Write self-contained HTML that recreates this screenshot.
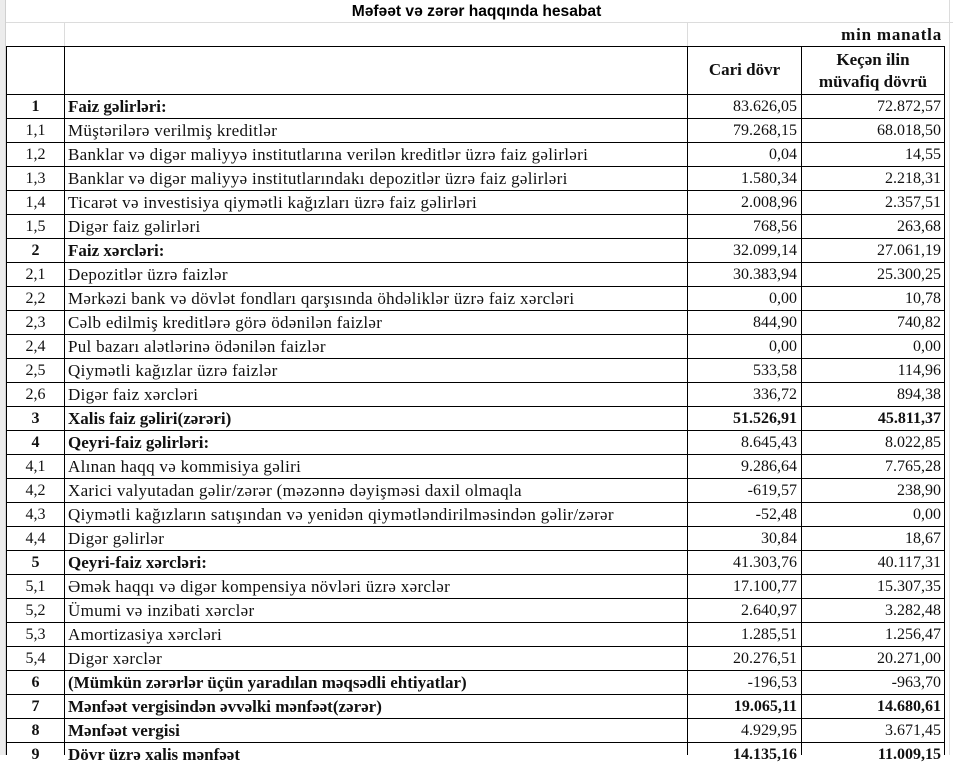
<!DOCTYPE html>
<html><head><meta charset="utf-8">
<style>
html,body{margin:0;padding:0;background:#fff;}
body{width:953px;height:755px;position:relative;overflow:hidden;font-family:"Liberation Serif",serif;font-size:16px;color:#111;}
.strip{position:absolute;left:0;top:0;width:5px;height:755px;background:#ececec;border-right:1px solid #d0d0d0;}
.g{position:absolute;background:#dcdcdc;}
.h{position:absolute;left:6px;width:939px;height:1px;background:#000;}
.v{position:absolute;top:46px;width:1px;height:709px;background:#000;}
.title{position:absolute;left:0;top:0;width:953px;height:22px;line-height:23px;text-align:center;font-family:"Liberation Sans",sans-serif;font-weight:bold;font-size:15.6px;color:#000;}
.r{position:absolute;left:0;width:953px;height:24px;line-height:25px;white-space:nowrap;}
.n{position:absolute;left:7px;width:57px;text-align:center;}
.l{position:absolute;left:68px;font-size:17px;letter-spacing:0.3px;}
.l.b,.b .l{letter-spacing:0;}
.a{position:absolute;left:688px;width:109px;text-align:right;}
.c{position:absolute;left:802px;width:139px;text-align:right;}
.b{font-weight:bold;}
.hd{position:absolute;font-weight:bold;text-align:center;font-size:17px;}
.mm{position:absolute;left:700px;width:242px;top:22px;line-height:25px;text-align:right;font-weight:bold;font-size:17px;letter-spacing:0.8px;}
</style></head><body>
<div class="strip"></div>
<div class="title">Məfəət və zərər haqqında hesabat</div>
<div class="g" style="left:6px;top:22px;width:947px;height:1px"></div>
<div class="g" style="left:64px;top:22px;width:1px;height:24px"></div>
<div class="g" style="left:687px;top:22px;width:1px;height:24px"></div>
<div class="g" style="left:949px;top:0;width:1px;height:755px"></div>
<div class="mm">min manatla</div>

<div class="hd" style="left:688px;top:58px;width:113px;line-height:24px">Cari dövr</div>
<div class="hd" style="left:802px;top:49px;width:142px;line-height:22px">Keçən ilin<br>müvafiq dövrü</div>

<div class="h" style="top:46px"></div>
<div class="h" style="top:94px"></div>
<div class="h" style="top:118px"></div>
<div class="h" style="top:142px"></div>
<div class="h" style="top:166px"></div>
<div class="h" style="top:190px"></div>
<div class="h" style="top:214px"></div>
<div class="h" style="top:238px"></div>
<div class="h" style="top:262px"></div>
<div class="h" style="top:286px"></div>
<div class="h" style="top:310px"></div>
<div class="h" style="top:334px"></div>
<div class="h" style="top:358px"></div>
<div class="h" style="top:382px"></div>
<div class="h" style="top:406px"></div>
<div class="h" style="top:430px"></div>
<div class="h" style="top:454px"></div>
<div class="h" style="top:478px"></div>
<div class="h" style="top:502px"></div>
<div class="h" style="top:526px"></div>
<div class="h" style="top:550px"></div>
<div class="h" style="top:574px"></div>
<div class="h" style="top:598px"></div>
<div class="h" style="top:622px"></div>
<div class="h" style="top:646px"></div>
<div class="h" style="top:670px"></div>
<div class="h" style="top:694px"></div>
<div class="h" style="top:718px"></div>
<div class="h" style="top:742px"></div>

<div class="v" style="left:6px"></div>
<div class="v" style="left:64px"></div>
<div class="v" style="left:687px"></div>
<div class="v" style="left:801px"></div>
<div class="v" style="left:944px"></div>

<div class="r" style="top:94px"><span class="n b">1</span><span class="l b">Faiz gəlirləri:</span><span class="a">83.626,05</span><span class="c">72.872,57</span></div>
<div class="r" style="top:118px"><span class="n">1,1</span><span class="l">Müştərilərə verilmiş kreditlər</span><span class="a">79.268,15</span><span class="c">68.018,50</span></div>
<div class="r" style="top:142px"><span class="n">1,2</span><span class="l">Banklar və digər maliyyə institutlarına verilən kreditlər üzrə faiz gəlirləri</span><span class="a">0,04</span><span class="c">14,55</span></div>
<div class="r" style="top:166px"><span class="n">1,3</span><span class="l">Banklar və digər maliyyə institutlarındakı depozitlər üzrə faiz gəlirləri</span><span class="a">1.580,34</span><span class="c">2.218,31</span></div>
<div class="r" style="top:190px"><span class="n">1,4</span><span class="l">Ticarət və investisiya qiymətli kağızları üzrə faiz gəlirləri</span><span class="a">2.008,96</span><span class="c">2.357,51</span></div>
<div class="r" style="top:214px"><span class="n">1,5</span><span class="l">Digər faiz gəlirləri</span><span class="a">768,56</span><span class="c">263,68</span></div>
<div class="r" style="top:238px"><span class="n b">2</span><span class="l b">Faiz xərcləri:</span><span class="a">32.099,14</span><span class="c">27.061,19</span></div>
<div class="r" style="top:262px"><span class="n">2,1</span><span class="l">Depozitlər üzrə faizlər</span><span class="a">30.383,94</span><span class="c">25.300,25</span></div>
<div class="r" style="top:286px"><span class="n">2,2</span><span class="l">Mərkəzi bank və dövlət fondları qarşısında öhdəliklər üzrə faiz xərcləri</span><span class="a">0,00</span><span class="c">10,78</span></div>
<div class="r" style="top:310px"><span class="n">2,3</span><span class="l">Cəlb edilmiş kreditlərə görə ödənilən faizlər</span><span class="a">844,90</span><span class="c">740,82</span></div>
<div class="r" style="top:334px"><span class="n">2,4</span><span class="l">Pul bazarı alətlərinə ödənilən faizlər</span><span class="a">0,00</span><span class="c">0,00</span></div>
<div class="r" style="top:358px"><span class="n">2,5</span><span class="l">Qiymətli kağızlar üzrə faizlər</span><span class="a">533,58</span><span class="c">114,96</span></div>
<div class="r" style="top:382px"><span class="n">2,6</span><span class="l">Digər faiz xərcləri</span><span class="a">336,72</span><span class="c">894,38</span></div>
<div class="r b" style="top:406px"><span class="n">3</span><span class="l">Xalis faiz gəliri(zərəri)</span><span class="a">51.526,91</span><span class="c">45.811,37</span></div>
<div class="r" style="top:430px"><span class="n b">4</span><span class="l b">Qeyri-faiz gəlirləri:</span><span class="a">8.645,43</span><span class="c">8.022,85</span></div>
<div class="r" style="top:454px"><span class="n">4,1</span><span class="l">Alınan haqq və kommisiya gəliri</span><span class="a">9.286,64</span><span class="c">7.765,28</span></div>
<div class="r" style="top:478px"><span class="n">4,2</span><span class="l">Xarici valyutadan gəlir/zərər (məzənnə dəyişməsi daxil olmaqla</span><span class="a">-619,57</span><span class="c">238,90</span></div>
<div class="r" style="top:502px"><span class="n">4,3</span><span class="l">Qiymətli kağızların satışından və yenidən qiymətləndirilməsindən gəlir/zərər</span><span class="a">-52,48</span><span class="c">0,00</span></div>
<div class="r" style="top:526px"><span class="n">4,4</span><span class="l">Digər gəlirlər</span><span class="a">30,84</span><span class="c">18,67</span></div>
<div class="r" style="top:550px"><span class="n b">5</span><span class="l b">Qeyri-faiz xərcləri:</span><span class="a">41.303,76</span><span class="c">40.117,31</span></div>
<div class="r" style="top:574px"><span class="n">5,1</span><span class="l">Əmək haqqı və digər kompensiya növləri üzrə xərclər</span><span class="a">17.100,77</span><span class="c">15.307,35</span></div>
<div class="r" style="top:598px"><span class="n">5,2</span><span class="l">Ümumi və inzibati xərclər</span><span class="a">2.640,97</span><span class="c">3.282,48</span></div>
<div class="r" style="top:622px"><span class="n">5,3</span><span class="l">Amortizasiya xərcləri</span><span class="a">1.285,51</span><span class="c">1.256,47</span></div>
<div class="r" style="top:646px"><span class="n">5,4</span><span class="l">Digər xərclər</span><span class="a">20.276,51</span><span class="c">20.271,00</span></div>
<div class="r" style="top:670px"><span class="n b">6</span><span class="l b">(Mümkün zərərlər üçün yaradılan məqsədli ehtiyatlar)</span><span class="a">-196,53</span><span class="c">-963,70</span></div>
<div class="r b" style="top:694px"><span class="n">7</span><span class="l">Mənfəət vergisindən əvvəlki mənfəət(zərər)</span><span class="a">19.065,11</span><span class="c">14.680,61</span></div>
<div class="r" style="top:718px"><span class="n b">8</span><span class="l b">Mənfəət vergisi</span><span class="a">4.929,95</span><span class="c">3.671,45</span></div>
<div class="r b" style="top:742px"><span class="n">9</span><span class="l">Dövr üzrə xalis mənfəət</span><span class="a">14.135,16</span><span class="c">11.009,15</span></div>
</body></html>
